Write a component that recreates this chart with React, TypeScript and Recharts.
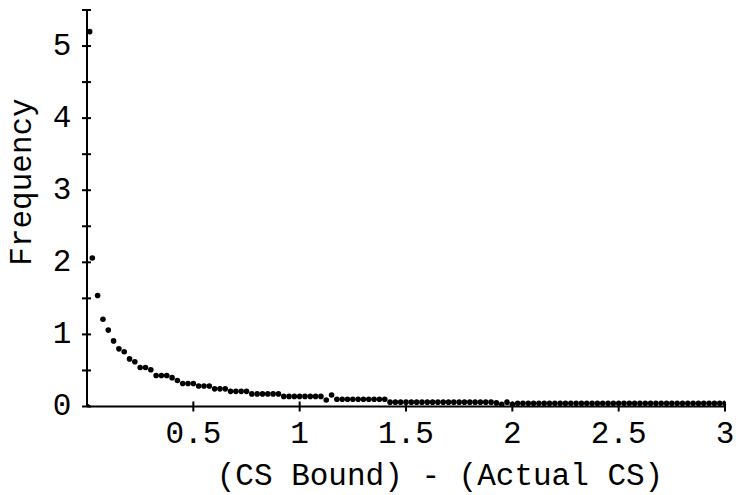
import { ScatterChart, Scatter, XAxis, YAxis, Label } from "recharts";

// bin width of the histogram-like frequency estimate
const binWidth = 0.025;

// leading points (origin dot and the tall first bin)
const headX = [0, 0.0125];
const headY = [0, 5.2];

// frequency for bins 1..120 (x = k * 0.025)
const freq = [
  2.06, 1.54, 1.21, 1.06, 0.91, 0.8, 0.76, 0.66, 0.62, 0.54,
  0.54, 0.51, 0.43, 0.43, 0.43, 0.4, 0.36, 0.32, 0.32, 0.32,
  0.285, 0.285, 0.285, 0.245, 0.245, 0.245, 0.21, 0.21, 0.21, 0.21,
  0.175, 0.175, 0.175, 0.175, 0.175, 0.175, 0.14, 0.14, 0.14, 0.14,
  0.14, 0.14, 0.14, 0.14, 0.09, 0.16, 0.1, 0.1, 0.1, 0.1,
  0.1, 0.1, 0.1, 0.1, 0.1, 0.1, 0.06, 0.06, 0.06, 0.06,
  0.06, 0.06, 0.06, 0.06, 0.06, 0.06, 0.06, 0.06, 0.06, 0.06,
  0.06, 0.06, 0.06, 0.06, 0.06, 0.06, 0.05, 0.03, 0.06, 0.03,
  0.045, 0.045, 0.045, 0.045, 0.045, 0.045, 0.045, 0.045, 0.045, 0.045,
  0.045, 0.045, 0.045, 0.045, 0.045, 0.045, 0.045, 0.045, 0.045, 0.045,
  0.045, 0.045, 0.045, 0.045, 0.045, 0.045, 0.045, 0.045, 0.045, 0.045,
  0.045, 0.045, 0.045, 0.045, 0.045, 0.045, 0.045, 0.045, 0.045, 0.045,
];

const xTicks = [0.5, 1, 1.5, 2, 2.5, 3];
const yTicks = [0, 0.5, 1, 1.5, 2, 2.5, 3, 3.5, 4, 4.5, 5, 5.5];

const xLabel = "(CS Bound) - (Actual CS)";
const yLabel = "Frequency";

const data = [
  ...headX.map((x, i) => ({ x, y: headY[i] })),
  ...freq.map((y, i) => ({ x: (i + 1) * binWidth, y })),
];

const font = "'Liberation Mono', 'Courier New', monospace";
const fontSize = 31;

function YTick(props: any) {
  const { x, y, payload } = props;
  const v = payload.value as number;
  return (
    <g>
      <line x1={x - 5} x2={x + 4} y1={y} y2={y} stroke="#000" strokeWidth={2} />
      {Number.isInteger(v) && (
        <text x={x - 25} y={y} textAnchor="middle" dominantBaseline="central" fontFamily={font} fontSize={fontSize} fill="#000">
          {v}
        </text>
      )}
    </g>
  );
}

function XTick(props: any) {
  const { x, y, payload } = props;
  return (
    <g>
      <line x1={x} x2={x} y1={y - 5} y2={y + 5} stroke="#000" strokeWidth={2} />
      <text x={x} y={y + 28} textAnchor="middle" dominantBaseline="central" fontFamily={font} fontSize={fontSize} fill="#000">
        {payload.value}
      </text>
    </g>
  );
}

function Dot(props: any) {
  return <circle cx={props.cx} cy={props.cy} r={2.8} fill="#000" />;
}

export default function App() {
  return (
    <div>
      <style>{"body{margin:0;background:#fff}"}</style>
      <ScatterChart width={739} height={495} margin={{ top: 10, right: 14, bottom: 0, left: 0 }}>
        <XAxis
          type="number"
          dataKey="x"
          domain={[0, 3]}
          ticks={xTicks}
          height={88.5}
          tickSize={0}
          tickMargin={0}
          tick={<XTick />}
          axisLine={{ stroke: "#000", strokeWidth: 2 }}
          tickLine={false}
          allowDataOverflow
        >
          <Label
            content={() => (
              <text x={440} y={485} textAnchor="middle" fontFamily={font} fontSize={fontSize} fill="#000">
                {xLabel}
              </text>
            )}
          />
        </XAxis>
        <YAxis
          type="number"
          dataKey="y"
          domain={[0, 5.5]}
          ticks={yTicks}
          width={87}
          tickSize={0}
          tickMargin={0}
          tick={<YTick />}
          axisLine={{ stroke: "#000", strokeWidth: 2 }}
          tickLine={false}
          allowDataOverflow
        >
          <Label
            content={() => (
              <text
                x={22}
                y={182}
                transform="rotate(-90 22 182)"
                textAnchor="middle"
                dominantBaseline="central"
                fontFamily={font}
                fontSize={fontSize}
                fill="#000"
              >
                {yLabel}
              </text>
            )}
          />
        </YAxis>
        <Scatter data={data} shape={<Dot />} isAnimationActive={false} />
      </ScatterChart>
    </div>
  );
}
